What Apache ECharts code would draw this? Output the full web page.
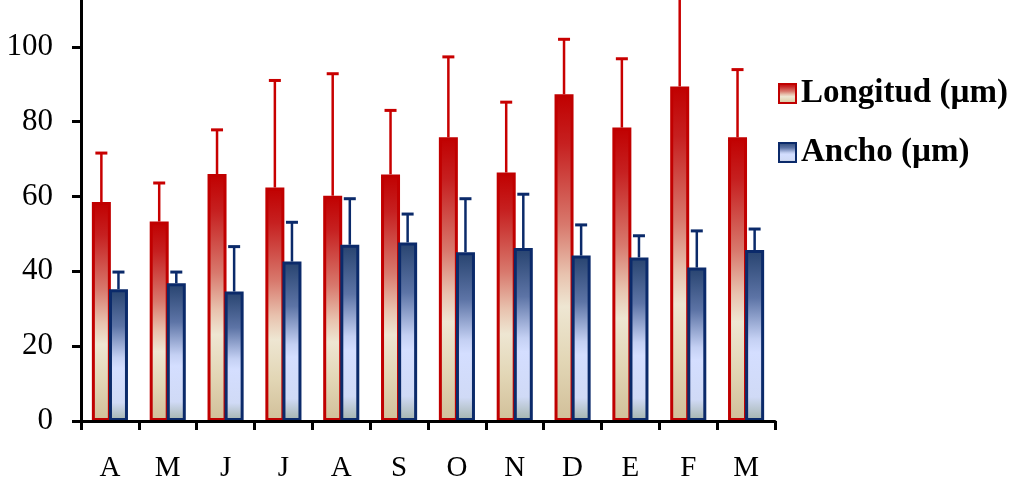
<!DOCTYPE html>
<html>
<head>
<meta charset="utf-8">
<script src="https://cdn.jsdelivr.net/npm/echarts@6/dist/echarts.min.js"></script>
<style>
  html, body { margin: 0; padding: 0; background: #ffffff; }
  #chart { width: 1015px; height: 482px; }
</style>
</head>
<body>
<div id="chart"></div>
<script>
// Months (April to March)
const months = ['A', 'M', 'J', 'J', 'A', 'S', 'O', 'N', 'D', 'E', 'F', 'M'];

// Mean length and width (µm) per month
const longitud = [58.5, 53.3, 66.0, 62.4, 60.2, 65.9, 75.8, 66.4, 87.3, 78.4, 89.4, 75.8];
const ancho    = [35.2, 36.8, 34.6, 42.6, 47.1, 47.7, 45.1, 46.2, 44.2, 43.7, 41.0, 45.7];

// Upper end of the error bars (mean + SD)
const longitudTop = [71.6, 63.6, 77.8, 91.0, 92.8, 83.0, 97.3, 85.2, 102.0, 96.8, 118.0, 93.9];
const anchoTop    = [39.8, 39.8, 46.6, 53.1, 59.4, 55.3, 59.4, 60.6, 52.4, 49.5, 50.8, 51.3];

// Value axis: ticks and labels every 20, axis running a little past 100
const yTickValues = [0, 20, 40, 60, 80, 100];
const yMax = 112.5;

const SERIF = "'Liberation Serif', 'Times New Roman', serif";
const BAR_W = 19;
const BAR_GAP = -0.1;               // fraction of bar width
const HALF_OFFSET = (BAR_W + BAR_W * BAR_GAP) / 2;

const redFill = new echarts.graphic.LinearGradient(0, 0, 0, 1, [
  { offset: 0.00, color: '#C00000' },
  { offset: 0.15, color: '#C62020' },
  { offset: 0.40, color: '#D8796D' },
  { offset: 0.55, color: '#E8C2AE' },
  { offset: 0.65, color: '#EEE6D2' },
  { offset: 0.82, color: '#E2D6B5' },
  { offset: 1.00, color: '#D1BF99' }
]);
const blueFill = new echarts.graphic.LinearGradient(0, 0, 0, 1, [
  { offset: 0.00, color: '#27436F' },
  { offset: 0.28, color: '#5D74A6' },
  { offset: 0.52, color: '#C4D0F3' },
  { offset: 0.60, color: '#D4DEFF' },
  { offset: 0.86, color: '#D0DAF6' },
  { offset: 1.00, color: '#A3B3AB' }
]);

function errorSeries(means, tops, color, side) {
  return {
    type: 'custom',
    z: 1,
    silent: true,
    data: tops.map((t, i) => [i, means[i], t]),
    renderItem: function (params, api) {
      const base = api.coord([api.value(0), api.value(1)]);
      const top = api.coord([api.value(0), api.value(2)]);
      const x = base[0] + side * HALF_OFFSET;
      return {
        type: 'group',
        children: [
          { type: 'line', shape: { x1: x, y1: base[1], x2: x, y2: top[1] },
            style: { stroke: color, lineWidth: 2.5 } },
          { type: 'line', shape: { x1: x - 6, y1: top[1], x2: x + 6, y2: top[1] },
            style: { stroke: color, lineWidth: 3 } }
        ]
      };
    }
  };
}

const chart = echarts.init(document.getElementById('chart'), null, { renderer: 'canvas' });
chart.setOption({
  animation: false,
  backgroundColor: '#ffffff',
  grid: { left: 81, right: 240, top: 0, bottom: 61, outerBoundsMode: 'none' },
  legend: {
    data: ['Longitud (µm)', 'Ancho (µm)'],
    orient: 'vertical',
    icon: 'rect',
    left: 773,
    top: 72,
    itemWidth: 17,
    itemHeight: 19,
    itemGap: 26,
    textStyle: { fontFamily: SERIF, fontSize: 33, fontWeight: 'bold', color: '#000' }
  },
  xAxis: {
    type: 'category',
    data: months,
    z: 5,
    axisLine: { lineStyle: { color: '#000', width: 3 } },
    axisTick: { show: true, interval: 0, length: 9, lineStyle: { color: '#000', width: 3 } },
    axisLabel: { interval: 0, margin: 33, fontFamily: SERIF, fontSize: 29, color: '#000' },
    splitLine: { show: false }
  },
  yAxis: {
    type: 'value',
    min: 0,
    max: yMax,
    z: 5,
    axisLine: { show: true, lineStyle: { color: '#000', width: 3 } },
    axisTick: { show: true, length: 9, customValues: yTickValues,
                lineStyle: { color: '#000', width: 3 } },
    axisLabel: { margin: 28, customValues: yTickValues,
                 fontFamily: SERIF, fontSize: 31, color: '#000' },
    splitLine: { show: false }
  },
  series: [
    {
      name: 'Longitud (µm)',
      type: 'bar',
      data: longitud,
      barWidth: BAR_W,
      barGap: (BAR_GAP * 100) + '%',
      itemStyle: { color: redFill, borderColor: '#C00000', borderWidth: 3 }
    },
    {
      name: 'Ancho (µm)',
      type: 'bar',
      data: ancho,
      barWidth: BAR_W,
      barGap: (BAR_GAP * 100) + '%',
      itemStyle: { color: blueFill, borderColor: '#0B2A6A', borderWidth: 3 }
    },
    errorSeries(longitud, longitudTop, '#C80000', -1),
    errorSeries(ancho, anchoTop, '#0B2A6A', 1)
  ]
});
</script>
</body>
</html>
